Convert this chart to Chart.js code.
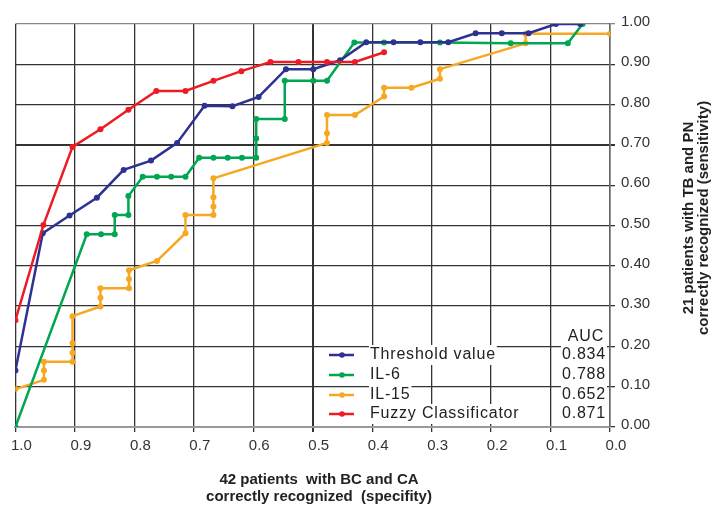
<!DOCTYPE html>
<html lang="en">
<head>
    <meta charset="UTF-8">
    <title>ROC curves</title>
    <script src="https://cdn.jsdelivr.net/npm/chart.js"></script>
    <style>
        body { margin: 0; background: #fff; }
        #wrap { width: 712px; height: 507px; }
    </style>
</head>
<body>
    <div id="wrap"><canvas id="rocChart" width="712" height="507"></canvas></div>
    <script>
        // specificity (x, reversed) / sensitivity (y)
        const thresholdSpec = [1.0, 0.954, 0.909, 0.863, 0.818, 0.772, 0.728, 0.682, 0.635, 0.591, 0.545, 0.499, 0.454, 0.410, 0.364, 0.319, 0.272, 0.226, 0.182, 0.137, 0.091, 0.050];
        const thresholdSens = [0.140, 0.481, 0.525, 0.569, 0.638, 0.661, 0.705, 0.797, 0.796, 0.819, 0.888, 0.888, 0.910, 0.955, 0.955, 0.955, 0.955, 0.977, 0.977, 0.977, 1.0, 1.0];

        const il6Spec = [1.0, 0.880, 0.856, 0.833, 0.833, 0.810, 0.810, 0.786, 0.762, 0.738, 0.714, 0.691, 0.667, 0.643, 0.619, 0.595, 0.595, 0.595, 0.547, 0.547, 0.499, 0.476, 0.430, 0.380, 0.286, 0.167, 0.071, 0.046];
        const il6Sens = [0.0, 0.478, 0.478, 0.478, 0.526, 0.526, 0.573, 0.621, 0.621, 0.621, 0.621, 0.668, 0.668, 0.668, 0.668, 0.668, 0.716, 0.764, 0.764, 0.859, 0.859, 0.859, 0.954, 0.954, 0.954, 0.952, 0.952, 1.0];

        const il15Spec = [1.0, 0.952, 0.952, 0.952, 0.904, 0.904, 0.904, 0.904, 0.857, 0.857, 0.857, 0.809, 0.809, 0.809, 0.762, 0.714, 0.714, 0.667, 0.667, 0.667, 0.667, 0.476, 0.476, 0.476, 0.429, 0.380, 0.380, 0.334, 0.286, 0.286, 0.142, 0.142, 0.0];
        const il15Sens = [0.094, 0.117, 0.140, 0.162, 0.162, 0.184, 0.208, 0.275, 0.299, 0.321, 0.344, 0.344, 0.367, 0.389, 0.412, 0.481, 0.526, 0.526, 0.547, 0.570, 0.617, 0.705, 0.729, 0.774, 0.774, 0.820, 0.842, 0.842, 0.864, 0.888, 0.952, 0.976, 0.976];

        const fuzzySpec = [1.0, 0.953, 0.904, 0.857, 0.810, 0.763, 0.714, 0.667, 0.620, 0.571, 0.524, 0.476, 0.429, 0.380];
        const fuzzySens = [0.265, 0.501, 0.695, 0.739, 0.787, 0.834, 0.834, 0.859, 0.883, 0.906, 0.906, 0.906, 0.906, 0.930];

        const seriesNames = ['Threshold value', 'IL-6', 'IL-15', 'Fuzzy Classificator'];
        const aucValues = ['0.834', '0.788', '0.652', '0.871'];
        const seriesColors = ['#2e3192', '#00a651', '#f7a823', '#ed1c24'];

        const xTitle = ['42 patients  with BC and CA', 'correctly recognized  (specifity)'];
        const yTitle = ['21 patients with TB and PN', 'correctly recognized (sensitivity)'];

        function toPoints(xs, ys) {
            return xs.map((x, i) => ({ x: x, y: ys[i] }));
        }

        const allData = [
            toPoints(thresholdSpec, thresholdSens),
            toPoints(il6Spec, il6Sens),
            toPoints(il15Spec, il15Sens),
            toPoints(fuzzySpec, fuzzySens)
        ];
        const drawOrder = [1, 2, 3, 0];

        const font = "'Liberation Sans', Arial, sans-serif";

        // legend, AUC column and axis titles
        const extras = {
            id: 'extras',
            afterDraw(chart) {
                const ctx = chart.ctx;
                ctx.save();
                ctx.font = '16px ' + font;
                ctx.letterSpacing = '0.8px';
                ctx.textBaseline = 'middle';
                const rows = [355, 375, 395, 414];
                seriesNames.forEach((name, i) => {
                    const y = rows[i];
                    ctx.strokeStyle = seriesColors[i];
                    ctx.lineWidth = 2.5;
                    ctx.beginPath();
                    ctx.moveTo(329, y);
                    ctx.lineTo(354, y);
                    ctx.stroke();
                    ctx.fillStyle = seriesColors[i];
                    ctx.beginPath();
                    ctx.arc(342, y, 2.8, 0, Math.PI * 2);
                    ctx.fill();

                    const w = ctx.measureText(name).width;
                    ctx.fillStyle = '#fff';
                    ctx.fillRect(369, y - 10, w + 2, 20);
                    ctx.fillStyle = '#222';
                    ctx.textAlign = 'left';
                    ctx.fillText(name, 370, y);

                    const aw = ctx.measureText(aucValues[i]).width;
                    ctx.fillStyle = '#fff';
                    ctx.fillRect(606 - aw - 1, y - 10, aw + 2, 20);
                    ctx.fillStyle = '#222';
                    ctx.textAlign = 'right';
                    ctx.fillText(aucValues[i], 606, y);
                });
                ctx.textAlign = 'right';
                ctx.fillText('AUC', 604, 337);

                ctx.letterSpacing = '0px';
                ctx.font = 'bold 15px ' + font;
                ctx.fillStyle = '#222';
                ctx.textAlign = 'center';
                ctx.fillText(xTitle[0], 319, 480);
                ctx.fillText(xTitle[1], 319, 497);

                ctx.translate(689, 218);
                ctx.rotate(-Math.PI / 2);
                ctx.fillText(yTitle[0], 0, 0);
                ctx.fillText(yTitle[1], 0, 15);
                ctx.restore();
            }
        };

        const rocChart = new Chart(document.getElementById('rocChart'), {
            type: 'line',
            data: {
                datasets: allData.map((pts, i) => ({
                    label: seriesNames[i],
                    data: pts,
                    borderColor: seriesColors[i],
                    backgroundColor: seriesColors[i],
                    pointBackgroundColor: seriesColors[i],
                    pointBorderWidth: 0,
                    pointRadius: 3,
                    borderWidth: 2.5,
                    tension: 0,
                    fill: false,
                    order: drawOrder[i]
                }))
            },
            options: {
                responsive: false,
                animation: false,
                layout: { padding: { left: 13, top: 24, right: 0, bottom: 0 } },
                plugins: {
                    legend: { display: false },
                    tooltip: { enabled: false }
                },
                scales: {
                    x: {
                        type: 'linear',
                        reverse: true,
                        min: 0,
                        max: 1,
                        afterFit(scale) { scale.height = 80; },
                        border: { color: '#999', width: 2 },
                        grid: {
                            color: '#333',
                            lineWidth: c => (c.tick && Math.abs(c.tick.value - 0.5) < 1e-6) ? 2 : 1.3,
                            tickLength: 5
                        },
                        ticks: {
                            stepSize: 0.1,
                            padding: 5,
                            labelOffset: 6,
                            color: '#333',
                            font: { family: font, size: 15 },
                            callback: v => Number(v).toFixed(1)
                        }
                    },
                    y: {
                        position: 'right',
                        min: 0,
                        max: 1,
                        afterFit(scale) { scale.width = 102; },
                        border: { color: '#666', width: 1.5 },
                        grid: {
                            color: c => (c.tick && Math.abs(c.tick.value - 1) < 1e-6) ? '#888' : '#333',
                            lineWidth: c => (c.tick && Math.abs(c.tick.value - 0.7) < 1e-6) ? 2 : 1.3,
                            tickLength: 5
                        },
                        ticks: {
                            stepSize: 0.1,
                            padding: 6,
                            labelOffset: -2,
                            color: '#333',
                            font: { family: font, size: 15 },
                            callback: v => Number(v).toFixed(2)
                        }
                    }
                }
            },
            plugins: [extras]
        });
    </script>
</body>
</html>
